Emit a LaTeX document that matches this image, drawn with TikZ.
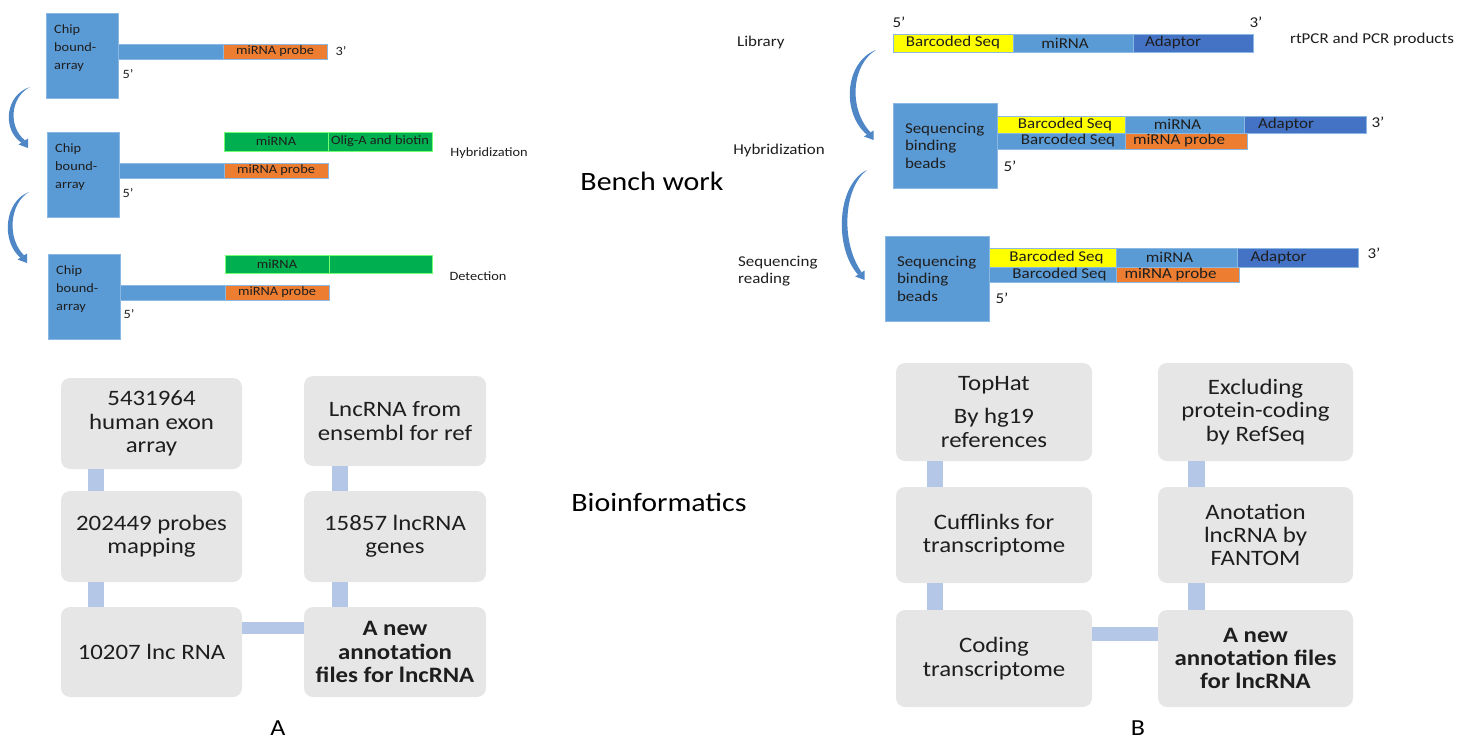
\documentclass[tikz,border=0pt]{standalone}
\usepackage{fontspec}
\setmainfont{Carlito}[FakeStretch=1.13]
\usetikzlibrary{calc}
\definecolor{cblue}{HTML}{5B9BD5}
\definecolor{cedge}{HTML}{8AB8E3}
\definecolor{corange}{HTML}{ED7D31}
\definecolor{cgreen}{HTML}{00B050}
\definecolor{cyellow}{HTML}{FFFF00}
\definecolor{cdark}{HTML}{4472C4}
\definecolor{cgray}{HTML}{E6E6E6}
\definecolor{cconn}{HTML}{B4C7E7}
\definecolor{carrow}{HTML}{4F87C6}
\definecolor{ctext}{HTML}{1E1E1E}
\newcommand\fsS{\fontsize{12.7}{18}\selectfont}
\newcommand\fsM{\fontsize{15}{17.5}\selectfont}
\newcommand\fsB{\fontsize{22}{23.3}\selectfont}
\newcommand\fsT{\fontsize{26.5}{30}\selectfont}
% box node from corner coordinates: style, name, x1, y1, x2, y2, text
\newcommand\bx[7]{%
  \pgfmathsetmacro\bxw{#5-#3}%
  \pgfmathsetmacro\bxh{#6-#4}%
  \pgfmathsetmacro\bxx{(#3+#5)/2}%
  \pgfmathsetmacro\bxy{(#4+#6)/2}%
  \node[#1, minimum width=\bxw pt, minimum height=\bxh pt] (#2) at (\bxx,\bxy) {#7};%
}
\newcommand\bentarr[5]{%
  \coordinate (#1s) at (#2,#3);
  \coordinate (#1t) at ({#2-0.1*#5},{#3+#4});
  \fill[carrow] (#1s) .. controls ({#2-1.25*#5},{#3+0.13*#4}) and ({#2-1.4*#5},{#3+0.70*#4}) .. ($(#1t)+(-6.5,-5.2)$)
     -- ($(#1t)+(-2.9,-7.6)$) .. controls ({#2-1.12*#5},{#3+0.65*#4}) and ({#2-0.97*#5},{#3+0.16*#4}) .. (#1s) -- cycle;
  \fill[carrow] (#1t) -- ($(#1t)+(0,-9.5)$) -- ($(#1t)+(-9.5,-3.5)$) -- cycle;
}
\tikzset{
  chip/.style={fill=cblue, draw=cedge, line width=0.7pt, inner sep=0pt},
  barS/.style={inner sep=0pt, draw=cedge, line width=0.5pt, font=\fsS, text=ctext},
  barM/.style={inner sep=0pt, draw=cedge, line width=0.5pt, font=\fsM, text=ctext},
  gbar/.style={inner sep=0pt, fill=cgreen, draw=green!55!white, line width=0.6pt, font=\fsS, text=ctext},
  lblS/.style={inner sep=0pt, font=\fsS, text=ctext},
  lblM/.style={inner sep=0pt, font=\fsM, text=ctext},
  ttl/.style={inner sep=0pt, font=\fsT, text=black},
  gbox/.style={fill=cgray, rounded corners=9pt, inner sep=0pt, align=center, font=\fsB, text=ctext},
  conn/.style={draw=cconn, line cap=butt},
}
\begin{document}
\begin{tikzpicture}[x=1pt,y=-1pt]
\path[use as bounding box] (0,0) rectangle (1471,741);

% ---------- top left: microarray ----------
\bx{chip}{chip1}{46}{13}{118}{98}{}
\node[lblS, anchor=north west, align=left] (chip1t) at (54,24) {Chip\\bound-\\array};
\bx{chip}{stem1}{118}{44}{223}{59}{}
\bx{barS, fill=corange}{probe1}{223}{44}{327}{59}{miRNA probe}
\node[lblS] (p1three) at (341,51) {3’};
\node[lblS] (p1five) at (128,74) {5’};

\bx{chip}{chip2}{47}{132}{119}{217}{}
\node[lblS, anchor=north west, align=left] (chip2t) at (55,143) {Chip\\bound-\\array};
\bx{chip}{stem2}{119}{163}{224}{178}{}
\bx{barS, fill=corange}{probe2}{224}{163}{328}{178}{miRNA probe}
\bx{gbar}{g2a}{224}{132}{328}{151}{miRNA}
\bx{gbar}{g2b}{328}{132}{432}{151}{Olig-A and biotin}
\node[lblS] (p2five) at (128,193) {5’};
\node[lblS] (hybL) at (489,153) {Hybridization};

\bx{chip}{chip3}{48}{254}{120}{339}{}
\node[lblS, anchor=north west, align=left] (chip3t) at (56,265) {Chip\\bound-\\array};
\bx{chip}{stem3}{120}{285}{225}{300}{}
\bx{barS, fill=corange}{probe3}{225}{285}{329}{300}{miRNA probe}
\bx{gbar}{g3a}{225}{255}{329}{273}{miRNA}
\bx{gbar}{g3b}{329}{255}{432}{273}{}
\node[lblS] (p3five) at (129,314) {5’};
\node[lblS] (det) at (478,276) {Detection};

\bentarr{arA}{30}{87}{61}{20}
\bentarr{arB}{29}{192}{71}{20}

% ---------- top right: sequencing ----------
\bx{barM, fill=cyellow}{l1}{893}{34}{1013}{52}{Barcoded Seq}
\bx{barM, fill=cblue}{l2}{1013}{34}{1133}{52}{miRNA\hspace*{16pt}}
\bx{barM, fill=cdark}{l3}{1133}{34}{1253}{52}{Adaptor\hspace*{40pt}}
\node[lblM] (lfive) at (899,22) {5’};
\node[lblM] (lthree) at (1256,22) {3’};
\node[lblM, anchor=west] (library) at (737,43) {Library};
\node[lblM] (rtpcr) at (1372,40) {rtPCR and PCR products};

\bx{chip, font=\fsM, text=ctext, align=left, text width=80pt}{beads1}{893}{103}{997}{188}{Sequencing\\binding\\beads}
\bx{barM, fill=cyellow}{r1a}{997}{116}{1125}{133}{\hspace*{8pt}Barcoded Seq}
\bx{barM, fill=cblue}{r1b}{1125}{116}{1244}{133}{miRNA\hspace*{14pt}}
\bx{barM, fill=cdark}{r1c}{1244}{116}{1366}{133}{Adaptor\hspace*{38pt}}
\bx{barM, fill=cblue}{r2a}{997}{133}{1125}{149}{\hspace*{14pt}Barcoded Seq}
\bx{barM, fill=corange}{r2b}{1125}{133}{1247}{149}{miRNA probe\hspace*{14pt}}
\node[lblM] (b1three) at (1378,122) {3’};
\node[lblM] (b1five) at (1010,166) {5’};
\node[lblM] (hybR) at (779,151) {Hybridization};

\bx{chip, font=\fsM, text=ctext, align=left, text width=80pt}{beads2}{885}{236}{989}{321}{Sequencing\\binding\\beads}
\bx{barM, fill=cyellow}{s1a}{989}{248}{1116}{267}{\hspace*{8pt}Barcoded Seq}
\bx{barM, fill=cblue}{s1b}{1116}{248}{1237}{267}{miRNA\hspace*{14pt}}
\bx{barM, fill=cdark}{s1c}{1237}{248}{1358}{267}{Adaptor\hspace*{38pt}}
\bx{barM, fill=cblue}{s2a}{989}{267}{1116}{282}{\hspace*{14pt}Barcoded Seq}
\bx{barM, fill=corange}{s2b}{1116}{267}{1239}{282}{miRNA probe\hspace*{14pt}}
\node[lblM] (b2three) at (1374,253) {3’};
\node[lblM] (b2five) at (1002,298) {5’};
\node[lblM, anchor=west, align=left] (seqread) at (738,271) {Sequencing\\reading};

\bentarr{arC}{876}{50}{90}{25}
\bentarr{arD}{867}{170}{110}{24}

% ---------- titles ----------
\node[ttl] (bench) at (652,181) {Bench work};
\node[ttl] (bioinf) at (659,502) {Bioinformatics};
\node[inner sep=0pt, font=\fontsize{23}{26}\selectfont] (labA) at (278,728) {A};
\node[inner sep=0pt, font=\fontsize{23}{26}\selectfont] (labB) at (1138,728) {B};

% ---------- bottom left flow ----------
\bx{gbox}{A1}{61}{378}{242}{469}{5431964\\human exon\\array}
\bx{gbox}{A2}{61}{491}{242}{582}{202449 probes\\mapping}
\bx{gbox}{A3}{61}{607}{242}{697}{10207 lnc RNA}
\bx{gbox}{B1}{304}{376}{486}{466}{LncRNA from\\ensembl for ref}
\bx{gbox}{B2}{304}{491}{486}{582}{15857 lncRNA\\genes}
\bx{gbox, font=\fsB\bfseries}{B3}{304}{607}{486}{697}{A new\\annotation\\files for lncRNA}
\draw[conn, line width=16pt] ([xshift=35pt]A1.south west) -- ([xshift=35pt]A2.north west);
\draw[conn, line width=16pt] ([xshift=35pt]A2.south west) -- ([xshift=35pt]A3.north west);
\draw[conn, line width=16pt] ([xshift=36pt]B1.south west) -- ([xshift=36pt]B2.north west);
\draw[conn, line width=16pt] ([xshift=36pt]B2.south west) -- ([xshift=36pt]B3.north west);
\draw[conn, line width=12pt] ([yshift=-21pt]A3.north east) -- ([yshift=-21pt]B3.north west);

% ---------- bottom right flow ----------
\bx{gbox}{C1}{896}{363}{1092}{461}{TopHat\\[10pt]By hg19\\references}
\bx{gbox}{C2}{896}{487}{1092}{583}{Cufflinks for\\transcriptome}
\bx{gbox}{C3}{896}{610}{1092}{707}{Coding\\transcriptome}
\bx{gbox}{D1}{1158}{363}{1353}{461}{Excluding\\protein-coding\\by RefSeq}
\bx{gbox}{D2}{1158}{487}{1353}{583}{Anotation\\lncRNA by\\FANTOM}
\bx{gbox, font=\fsB\bfseries}{D3}{1158}{610}{1353}{707}{A new\\annotation files\\for lncRNA}
\draw[conn, line width=16pt] ([xshift=39pt]C1.south west) -- ([xshift=39pt]C2.north west);
\draw[conn, line width=16pt] ([xshift=39pt]C2.south west) -- ([xshift=39pt]C3.north west);
\draw[conn, line width=17pt] ([xshift=38.5pt]D1.south west) -- ([xshift=38.5pt]D2.north west);
\draw[conn, line width=17pt] ([xshift=38.5pt]D2.south west) -- ([xshift=38.5pt]D3.north west);
\draw[conn, line width=14pt] ([yshift=-24pt]C3.north east) -- ([yshift=-24pt]D3.north west);
\end{tikzpicture}
\end{document}
